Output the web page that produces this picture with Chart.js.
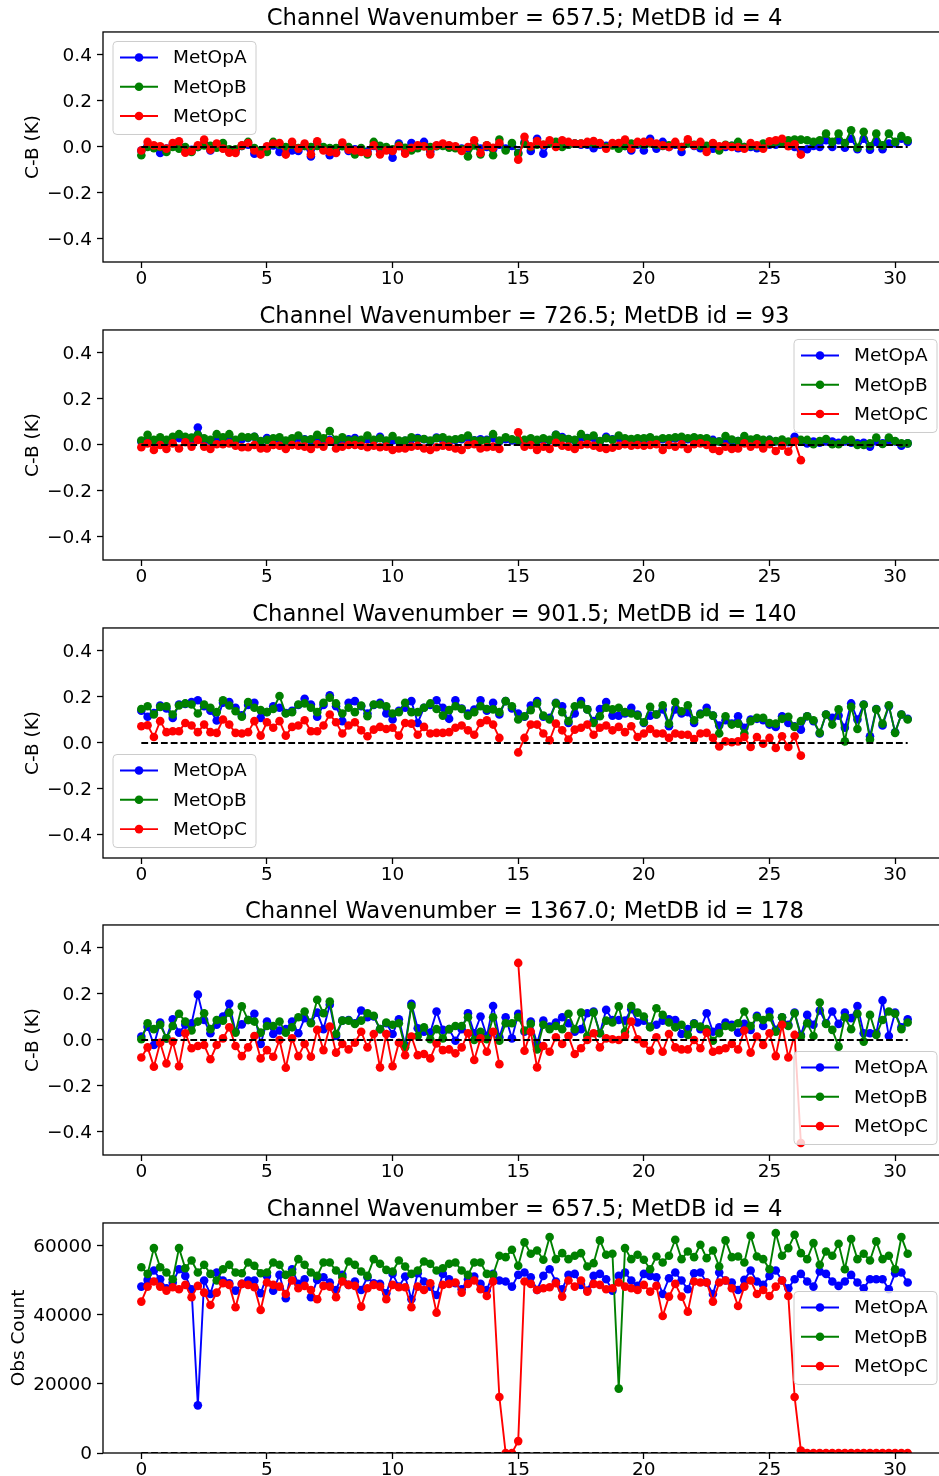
<!DOCTYPE html>
<html>
<head>
<meta charset="utf-8">
<script src="https://cdn.jsdelivr.net/npm/chart.js@4.4.0/dist/chart.umd.min.js"></script>
<style>
  html, body { margin: 0; padding: 0; background: #fff; overflow: hidden; width: 939px; height: 1476px; }
  canvas { position: absolute; left: 0; }
</style>
</head>
<body>
<canvas id="p0" width="946" height="298" style="top:0px"></canvas>
<canvas id="p1" width="946" height="298" style="top:298px"></canvas>
<canvas id="p2" width="946" height="298" style="top:596px"></canvas>
<canvas id="p3" width="946" height="298" style="top:893px"></canvas>
<canvas id="p4" width="946" height="298" style="top:1191px"></canvas>
<script>
// x axis: days, 6-hourly steps
const days = Array.from({ length: 123 }, (_, i) => i * 0.25);
const xTicks = [0, 5, 10, 15, 20, 25, 30];
const cbTicks = [-0.4, -0.2, 0, 0.2, 0.4];
const countTicks = [0, 20000, 40000, 60000];
const seriesNames = ["MetOpA", "MetOpB", "MetOpC"];
const titles = [
  "Channel Wavenumber = 657.5; MetDB id = 4",
  "Channel Wavenumber = 726.5; MetDB id = 93",
  "Channel Wavenumber = 901.5; MetDB id = 140",
  "Channel Wavenumber = 1367.0; MetDB id = 178",
  "Channel Wavenumber = 657.5; MetDB id = 4",
];

// C-B (K), channel 657.5
const cb4A = [-0.015, 0.005, 0.0, -0.026, -0.007, 0.01, 0.005, -0.015, -0.012, 0.0,
  0.015, -0.015, 0.01, -0.005, -0.02, -0.017, 0.005, 0.01, -0.029, -0.022,
  -0.005, 0.007, -0.022, -0.02, -0.015, -0.017, 0.005, -0.041, 0.015, -0.01,
  -0.036, -0.022, 0.01, -0.017, -0.01, -0.017, -0.02, 0.005, -0.015, -0.01,
  -0.047, 0.015, -0.015, 0.017, 0.0, 0.022, -0.02, 0.005, 0.01, 0.005,
  0.0, -0.007, -0.005, 0.01, -0.007, 0.0, -0.01, 0.01, -0.007, 0.005,
  -0.025, 0.02, -0.017, 0.036, -0.029, 0.015, 0.01, 0.015, 0.01, 0.015,
  0.01, 0.01, -0.005, 0.01, 0.005, 0.01, 0.015, 0.005, -0.015, 0.01,
  -0.015, 0.036, -0.007, 0.022, 0.0, 0.01, -0.022, 0.015, 0.005, -0.005,
  0.0, -0.007, 0.0, 0.0, 0.005, -0.005, 0.0, 0.0, -0.005, 0.0,
  0.01, 0.01, 0.015, 0.01, 0.0, -0.015, -0.01, 0.005, 0.0, 0.029,
  0.0, 0.029, -0.003, 0.036, -0.01, 0.036, -0.012, 0.022, -0.01, 0.015,
  0.015, 0.036, 0.022];
const cb4B = [-0.036, 0.0, -0.005, 0.0, -0.022, 0.0, -0.007, 0.0, -0.022, 0.0,
  0.007, 0.005, -0.003, 0.017, -0.01, -0.01, 0.005, 0.022, -0.005, -0.015,
  -0.022, 0.022, 0.01, 0.0, 0.01, -0.005, 0.005, 0.0, 0.005, 0.0,
  -0.005, -0.005, 0.003, 0.0, -0.032, -0.005, -0.032, 0.022, 0.005, 0.0,
  -0.01, 0.007, -0.003, -0.015, -0.005, 0.003, 0.0, 0.003, 0.005, -0.003,
  -0.005, -0.01, -0.041, 0.007, -0.032, 0.007, -0.036, 0.032, -0.015, 0.017,
  -0.029, 0.015, 0.0, 0.01, 0.01, 0.015, 0.022, 0.0, 0.01, 0.015,
  0.015, 0.015, 0.017, 0.015, 0.0, 0.007, -0.007, 0.005, 0.015, 0.015,
  0.01, 0.015, 0.01, 0.005, 0.007, 0.015, 0.0, 0.015, 0.01, 0.005,
  0.005, 0.015, -0.015, 0.01, 0.005, 0.022, 0.0, 0.005, 0.003, 0.015,
  0.015, 0.022, 0.022, 0.029, 0.032, 0.032, 0.029, 0.022, 0.029, 0.058,
  0.022, 0.058, 0.017, 0.073, -0.003, 0.066, 0.003, 0.058, 0.007, 0.058,
  0.022, 0.047, 0.029];
const cb4C = [-0.015, 0.022, 0.007, 0.003, -0.007, 0.017, 0.025, -0.025, -0.017, 0.007,
  0.032, -0.012, 0.015, -0.007, -0.025, -0.026, 0.007, 0.017, -0.015, -0.033,
  0.003, 0.015, 0.017, -0.033, 0.023, -0.007, 0.015, -0.032, 0.025, -0.015,
  -0.022, -0.026, 0.019, -0.012, -0.015, -0.022, -0.026, 0.007, -0.032, -0.015,
  -0.017, 0.003, -0.029, -0.003, 0.007, 0.003, -0.032, 0.007, 0.015, 0.007,
  0.003, -0.017, 0.0, 0.029, -0.026, 0.007, -0.003, 0.017, null, null,
  -0.055, 0.044, 0.003, 0.026, 0.01, 0.029, 0.0, 0.029, 0.022, 0.015,
  0.015, 0.022, 0.026, 0.017, -0.007, 0.017, 0.017, 0.032, -0.007, 0.022,
  0.022, 0.022, 0.015, 0.007, 0.0, 0.022, 0.0, 0.033, 0.007, 0.022,
  -0.022, 0.017, 0.003, 0.007, 0.0, 0.0, -0.007, 0.017, 0.007, -0.007,
  0.025, 0.029, 0.036, 0.003, 0.012, -0.033];

// C-B (K), channel 726.5
const cb93A = [0.015, 0.02, 0.012, 0.02, 0.015, 0.025, 0.03, 0.025, 0.022, 0.076,
  0.02, 0.018, 0.03, 0.025, 0.035, 0.015, 0.025, 0.03, 0.036, 0.015,
  0.03, 0.022, 0.025, 0.015, 0.02, 0.03, 0.025, 0.02, 0.03, 0.022,
  0.022, 0.018, 0.02, 0.025, 0.03, 0.018, 0.025, 0.018, 0.036, 0.015,
  0.02, 0.015, 0.018, 0.025, 0.03, 0.025, 0.015, 0.032, 0.022, 0.015,
  0.022, 0.025, 0.03, 0.02, 0.025, 0.022, 0.03, 0.015, 0.025, 0.02,
  0.018, 0.018, 0.022, 0.02, 0.022, 0.02, 0.044, 0.035, 0.025, 0.02,
  0.03, 0.03, 0.03, 0.015, 0.036, 0.025, 0.03, 0.022, 0.02, 0.025,
  0.022, 0.03, 0.02, 0.025, 0.022, 0.028, 0.03, 0.025, 0.03, 0.025,
  0.022, 0.022, 0.015, 0.015, 0.02, 0.017, 0.025, 0.02, 0.025, 0.02,
  0.022, 0.015, 0.018, 0.012, 0.036, 0.015, 0.007, 0.015, 0.01, 0.015,
  0.015, 0.01, 0.015, 0.01, 0.007, 0.01, -0.007, 0.015, 0.007, 0.022,
  0.015, -0.003, 0.007];
const cb93B = [0.019, 0.044, 0.022, 0.033, 0.022, 0.036, 0.047, 0.036, 0.032, 0.044,
  0.029, 0.022, 0.047, 0.033, 0.047, 0.022, 0.036, 0.033, 0.036, 0.017,
  0.022, 0.029, 0.033, 0.019, 0.029, 0.041, 0.022, 0.025, 0.044, 0.029,
  0.061, 0.022, 0.033, 0.019, 0.022, 0.022, 0.041, 0.022, 0.029, 0.019,
  0.039, 0.019, 0.019, 0.033, 0.026, 0.026, 0.019, 0.029, 0.033, 0.022,
  0.025, 0.029, 0.041, 0.019, 0.019, 0.019, 0.047, 0.019, 0.033, 0.025,
  0.022, 0.022, 0.029, 0.022, 0.029, 0.022, 0.044, 0.029, 0.026, 0.022,
  0.047, 0.029, 0.041, 0.017, 0.029, 0.022, 0.041, 0.029, 0.026, 0.029,
  0.029, 0.033, 0.022, 0.029, 0.029, 0.033, 0.036, 0.029, 0.033, 0.029,
  0.029, 0.015, 0.015, 0.039, 0.024, 0.017, 0.039, 0.024, 0.029, 0.022,
  0.022, 0.017, 0.024, 0.015, 0.015, 0.022, 0.022, 0.003, 0.017, 0.026,
  0.003, 0.003, 0.022, 0.022, 0.0, 0.0, 0.007, 0.032, 0.004, 0.032,
  0.017, 0.007, 0.007];
const cb93C = [-0.01, 0.007, -0.022, 0.0, -0.017, 0.007, -0.015, 0.012, -0.007, 0.022,
  -0.007, -0.017, 0.003, 0.003, 0.007, -0.003, -0.01, -0.01, 0.0, -0.015,
  -0.015, 0.0, -0.003, -0.017, 0.0, -0.003, -0.007, -0.017, 0.003, -0.007,
  0.017, -0.015, -0.007, 0.0, 0.0, -0.003, -0.01, -0.003, -0.01, -0.007,
  -0.022, -0.015, -0.015, -0.007, -0.003, -0.015, -0.022, -0.01, -0.003, -0.007,
  -0.015, -0.022, 0.0, 0.003, -0.015, -0.01, -0.007, -0.017, null, null,
  0.055, -0.007, 0.0, -0.022, -0.007, -0.017, 0.01, -0.003, -0.007, -0.017,
  0.0, 0.003, -0.003, -0.012, -0.017, -0.012, -0.003, 0.003, -0.003, 0.0,
  -0.003, 0.0, 0.003, -0.022, 0.0, -0.007, 0.003, -0.017, 0.003, 0.007,
  0.0, -0.017, -0.026, -0.007, -0.017, -0.015, 0.007, -0.007, 0.003, -0.015,
  0.003, -0.026, -0.003, -0.029, 0.015, -0.066];

// C-B (K), channel 901.5
const cb140A = [0.14, 0.114, 0.13, 0.163, 0.15, 0.109, 0.167, 0.17, 0.178, 0.186,
  0.16, 0.14, 0.098, 0.175, 0.178, 0.153, 0.12, 0.165, 0.175, 0.109,
  0.135, 0.16, 0.153, 0.13, 0.14, 0.165, 0.192, 0.167, 0.114, 0.165,
  0.207, 0.16, 0.095, 0.175, 0.182, 0.16, 0.128, 0.165, 0.175, 0.128,
  0.102, 0.14, 0.153, 0.182, 0.087, 0.153, 0.165, 0.186, 0.153, 0.105,
  0.186, 0.15, 0.128, 0.145, 0.186, 0.14, 0.175, 0.124, 0.182, 0.15,
  0.128, 0.114, 0.163, 0.182, 0.114, 0.109, 0.175, 0.16, 0.087, 0.128,
  0.182, 0.146, 0.095, 0.148, 0.178, 0.119, 0.119, 0.128, 0.153, 0.124,
  0.087, 0.119, 0.124, 0.146, 0.073, 0.146, 0.128, 0.134, 0.087, 0.128,
  0.153, 0.119, 0.076, 0.099, 0.084, 0.116, 0.066, 0.102, 0.105, 0.099,
  0.08, 0.07, 0.116, 0.087, 0.073, 0.058, 0.116, 0.095, 0.041, 0.124,
  0.109, 0.119, 0.066, 0.172, 0.102, 0.167, 0.029, 0.148, 0.076, 0.16,
  0.047, 0.124, 0.105];
const cb140B = [0.148, 0.16, 0.124, 0.157, 0.16, 0.124, 0.163, 0.172, 0.167, 0.128,
  0.167, 0.153, 0.134, 0.186, 0.163, 0.138, 0.114, 0.178, 0.153, 0.143,
  0.134, 0.148, 0.204, 0.128, 0.134, 0.167, 0.172, 0.153, 0.134, 0.175,
  0.197, 0.172, 0.128, 0.153, 0.134, 0.163, 0.116, 0.167, 0.167, 0.16,
  0.128, 0.134, 0.175, 0.134, 0.134, 0.153, 0.172, 0.148, 0.119, 0.143,
  0.16, 0.148, 0.119, 0.134, 0.16, 0.148, 0.146, 0.134, 0.182, 0.16,
  0.102, 0.116, 0.143, 0.172, 0.119, 0.102, 0.172, 0.134, 0.095, 0.16,
  0.167, 0.146, 0.087, 0.116, 0.153, 0.146, 0.153, 0.134, 0.128, 0.119,
  0.09, 0.157, 0.124, 0.164, 0.084, 0.178, 0.138, 0.164, 0.099, 0.124,
  0.134, 0.119, 0.041, 0.116, 0.08, 0.084, 0.041, 0.095, 0.109, 0.109,
  0.087, 0.084, 0.105, 0.114, 0.07, 0.095, 0.116, 0.099, 0.044, 0.124,
  0.08, 0.146, 0.007, 0.157, 0.061, 0.166, 0.015, 0.146, 0.084, 0.164,
  0.044, 0.124, 0.102];
const cb140C = [0.073, 0.077, 0.026, 0.095, 0.047, 0.051, 0.051, 0.087, 0.076, 0.047,
  0.08, 0.047, 0.044, 0.102, 0.08, 0.044, 0.041, 0.047, 0.095, 0.032,
  0.09, 0.066, 0.095, 0.032, 0.07, 0.076, 0.099, 0.051, 0.051, 0.076,
  0.124, 0.09, 0.041, 0.076, 0.09, 0.055, 0.029, 0.058, 0.07, 0.061,
  0.066, 0.032, 0.087, 0.084, 0.036, 0.07, 0.041, 0.044, 0.044, 0.047,
  0.066, 0.076, 0.055, 0.036, 0.087, 0.099, 0.08, 0.022, null, null,
  -0.041, 0.022, 0.08, 0.08, 0.041, 0.012, 0.084, 0.055, 0.015, 0.058,
  0.066, 0.08, 0.036, 0.066, 0.076, 0.055, 0.07, 0.047, 0.073, 0.026,
  0.041, 0.061, 0.041, 0.041, 0.022, 0.041, 0.036, 0.036, 0.017, 0.041,
  0.044, 0.022, -0.015, 0.007, 0.003, 0.007, 0.026, -0.017, 0.026, -0.003,
  0.022, -0.022, 0.029, -0.017, 0.029, -0.055];

// C-B (K), channel 1367.0
const cb178A = [0.015, 0.058, -0.022, 0.076, 0.007, 0.09, 0.032, 0.066, 0.073, 0.197,
  0.087, 0.029, 0.066, 0.102, 0.157, 0.036, 0.068, 0.087, 0.114, -0.017,
  0.08, 0.026, 0.041, 0.047, 0.08, 0.029, 0.095, 0.076, 0.119, 0.047,
  0.153, 0.017, 0.084, 0.087, 0.073, 0.128, 0.099, 0.102, 0.047, 0.073,
  0.026, 0.09, -0.022, 0.157, 0.051, 0.036, 0.032, 0.124, 0.044, 0.047,
  -0.003, 0.047, 0.116, 0.029, 0.102, 0.017, 0.148, 0.012, 0.099, 0.007,
  0.114, 0.036, 0.08, -0.015, 0.084, 0.058, 0.076, 0.099, 0.073, 0.036,
  0.047, 0.116, 0.124, 0.029, 0.131, 0.087, 0.087, 0.084, 0.134, 0.076,
  0.084, 0.058, 0.066, 0.084, 0.09, 0.087, 0.026, 0.047, 0.073, 0.047,
  0.116, 0.036, 0.055, 0.076, 0.066, 0.032, 0.07, 0.044, 0.105, 0.061,
  0.124, 0.044, 0.099, 0.066, 0.119, 0.022, 0.109, 0.066, 0.128, 0.073,
  0.124, 0.07, 0.119, 0.095, 0.148, 0.029, 0.029, 0.029, 0.172, 0.017,
  0.119, 0.055, 0.09];
const cb178B = [0.003, 0.073, 0.047, 0.066, 0.007, 0.061, 0.114, 0.08, 0.041, 0.08,
  0.116, 0.047, 0.087, 0.084, 0.119, 0.032, 0.146, 0.087, 0.08, 0.032,
  0.061, 0.061, 0.08, 0.032, 0.055, 0.099, 0.124, 0.073, 0.175, 0.116,
  0.167, 0.026, 0.084, 0.084, 0.07, 0.084, 0.116, 0.105, 0.047, 0.076,
  0.066, 0.073, -0.032, 0.148, 0.017, 0.055, 0.003, 0.047, 0.007, 0.047,
  0.061, 0.061, 0.099, 0.0, 0.036, 0.003, 0.099, -0.003, 0.073, 0.073,
  0.099, 0.041, 0.07, -0.041, 0.066, 0.047, 0.061, 0.047, 0.114, 0.047,
  0.119, 0.017, 0.119, 0.029, 0.084, 0.076, 0.146, 0.036, 0.148, 0.119,
  0.102, 0.055, 0.138, 0.109, 0.076, 0.055, 0.066, 0.022, 0.07, 0.058,
  0.047, -0.003, 0.029, 0.061, 0.055, 0.073, 0.124, 0.061, 0.099, 0.087,
  0.099, 0.036, 0.099, 0.061, 0.116, 0.015, 0.073, 0.017, 0.163, 0.07,
  0.044, -0.029, 0.099, 0.047, 0.114, -0.007, 0.109, 0.022, 0.087, 0.124,
  0.114, 0.047, 0.076];
const cb178C = [-0.076, -0.032, -0.116, -0.012, -0.102, -0.007, -0.114, 0.029, -0.036, -0.026,
  -0.022, -0.084, -0.022, 0.007, 0.055, -0.026, -0.07, -0.032, 0.017, -0.08,
  -0.044, -0.073, 0.0, -0.121, 0.007, -0.07, -0.017, -0.073, 0.044, -0.044,
  0.058, -0.055, -0.017, -0.041, -0.012, 0.036, -0.032, 0.026, -0.119, 0.026,
  -0.114, -0.012, -0.066, 0.015, -0.066, -0.061, -0.08, -0.015, -0.044, -0.041,
  -0.058, -0.032, 0.029, -0.087, 0.007, -0.051, 0.036, -0.105, null, null,
  0.335, -0.047, 0.036, -0.119, -0.026, -0.051, 0.012, -0.017, 0.017, -0.061,
  -0.036, 0.0, 0.029, -0.032, 0.007, 0.003, 0.0, 0.017, 0.08, 0.003,
  -0.015, -0.047, 0.012, -0.051, 0.026, -0.032, -0.041, -0.041, 0.0, -0.036,
  0.032, -0.051, -0.044, -0.036, -0.017, -0.041, 0.041, -0.055, 0.015, -0.022,
  0.029, -0.07, 0.066, -0.076, 0.022, -0.448];

// Obs count, channel 657.5
const countA = [48180, 50120, 52830, 50310, 47700, 49350, 53220, 51280, 47410, 13800,
  49930, 46050, 52250, 49930, 49150, 47020, 48960, 49930, 49930, 46250,
  51280, 47020, 51570, 44790, 53220, 48960, 50310, 45080, 50120, 50890,
  49350, 47210, 51570, 48670, 49640, 47210, 50890, 49150, 48960, 46250,
  51860, 48180, 51090, 44500, 52060, 49640, 48180, 45760, 51860, 50310,
  49150, 47410, 50310, 51090, 48960, 47210, 51860, 49930, 49640, 48180,
  51570, 52250, 50890, 47210, 51280, 53220, 49640, 47410, 51570, 51860,
  48670, 47020, 51280, 51860, 50310, 47020, 51280, 52250, 49930, 48380,
  51860, 51280, 50890, 46050, 50600, 52250, 49930, 47410, 52060, 52250,
  49350, 46050, 52250, 49930, 49350, 47210, 50120, 52830, 49640, 48670,
  51280, 52830, 49930, 47700, 50310, 51860, 49640, 48180, 52540, 51860,
  49640, 48380, 49640, 51570, 49350, 47700, 50310, 50310, 50310, 47410,
  52060, 52250, 49350];
const countB = [53800, 51860, 59320, 53800, 52250, 50310, 59320, 53510, 55740, 52250,
  54480, 51860, 49930, 53220, 54480, 52250, 52060, 55160, 54190, 52060,
  52250, 55160, 54480, 51570, 52250, 56130, 54480, 52250, 51280, 55160,
  55160, 52830, 50890, 55450, 54480, 52540, 51280, 56130, 54770, 53030,
  52540, 55740, 53990, 51860, 52830, 55450, 54770, 52830, 53510, 54770,
  55160, 52830, 51570, 55160, 55160, 51860, 51570, 57090, 56710, 58840,
  54190, 60970, 57670, 58640, 55930, 62520, 56130, 57860, 56130, 57090,
  57860, 53990, 54960, 61550, 57380, 57670, 18640, 59320, 56130, 57380,
  55930, 53220, 56900, 55160, 57090, 61750, 56130, 58350, 56710, 60290,
  56420, 58640, 53990, 61550, 56710, 56900, 55160, 62900, 56900, 56130,
  53220, 63680, 57090, 59320, 63190, 57860, 56130, 60770, 54480, 58350,
  57090, 60580, 53220, 61940, 56130, 57670, 55740, 61260, 56130, 57090,
  53220, 62520, 57670];
const countC = [43830, 48180, 49640, 48180, 47020, 47990, 47410, 48670, 45080, 48380,
  46440, 42860, 46440, 49150, 48670, 42180, 48960, 48670, 47990, 41400,
  49350, 48670, 48180, 46050, 49930, 47700, 48380, 47210, 44500, 48380,
  48180, 45080, 49640, 48670, 48380, 42370, 47700, 48670, 48180, 44500,
  48670, 47990, 47990, 42180, 48180, 47210, 49150, 40630, 48670, 48960,
  49350, 46440, 48960, 49930, 47410, 45470, 49640, 16220, 0, 0,
  3440, 49640, 48960, 47210, 47700, 47990, 49150, 45280, 49930, 48180,
  49930, 46730, 48960, 48670, 47410, 47700, 49350, 48180, 47700, 47210,
  48670, 46730, 48380, 39650, 45280, 48960, 45280, 40920, 49640, 49350,
  49350, 43830, 49350, 49930, 47700, 42570, 48180, 49930, 46050, 47210,
  45470, 48180, 49930, 45470, 16220, 700, 0, 0, 0, 0,
  0, 0, 0, 0, 0, 0, 0, 0, 0, 0,
  0, 0, 0];

const FONT = "'DejaVu Sans', sans-serif";
Chart.defaults.font.family = FONT;
Chart.defaults.color = "#000";

const blue = "#0000ff";
const green = "#008000";
const red = "#ff0000";
const markerR = 4.3;

// matplotlib-style axes frame + legend box drawn inside the plot area
const framePlugin = {
  id: "frame",
  afterDatasetsDraw(chart, args, opts) {
    const { ctx, chartArea: a } = chart;
    ctx.save();
    ctx.strokeStyle = "#000";
    ctx.lineWidth = 1.3;
    ctx.strokeRect(a.left, a.top, a.right - a.left, a.bottom - a.top);

    const w = 143, h = 93;
    const where = opts.legend;
    const x = where.includes("left") ? a.left + 10 : a.right - 9 - w;
    let y;
    if (where.startsWith("upper")) y = a.top + 9.5;
    else if (where.startsWith("lower")) y = a.bottom - 10.5 - h;
    else y = (a.top + a.bottom) / 2 - h / 2;

    ctx.beginPath();
    if (ctx.roundRect) ctx.roundRect(x, y, w, h, 4);
    else ctx.rect(x, y, w, h);
    ctx.fillStyle = "rgba(255,255,255,0.8)";
    ctx.fill();
    ctx.strokeStyle = "#cccccc";
    ctx.lineWidth = 1;
    ctx.stroke();

    const entries = chart.data.datasets.filter((d) => d.label);
    entries.forEach((d, k) => {
      const ry = y + 16 + k * 29.3;
      ctx.strokeStyle = d.borderColor;
      ctx.lineWidth = 1.9;
      ctx.beginPath();
      ctx.moveTo(x + 7, ry);
      ctx.lineTo(x + 45, ry);
      ctx.stroke();
      ctx.fillStyle = d.borderColor;
      ctx.beginPath();
      ctx.arc(x + 26, ry, markerR, 0, Math.PI * 2);
      ctx.fill();
      ctx.fillStyle = "#000";
      ctx.font = "18.5px " + FONT;
      ctx.textBaseline = "middle";
      ctx.textAlign = "left";
      ctx.fillText(d.label, x + 60, ry + 1);
    });
    ctx.restore();
  },
};

function toXY(vals) {
  return vals.map((v, i) => ({ x: days[i], y: v }));
}

function series(label, color, vals, order) {
  return {
    label,
    data: toXY(vals),
    borderColor: color,
    backgroundColor: color,
    borderWidth: 1.9,
    pointRadius: markerR,
    pointBorderWidth: 0,
    pointHoverRadius: markerR,
    order,
  };
}

function zeroLine() {
  return {
    label: "",
    data: [{ x: days[0], y: 0 }, { x: days[days.length - 1], y: 0 }],
    borderColor: "#000",
    borderWidth: 1.9,
    borderDash: [6.8, 3],
    pointRadius: 0,
    order: 0,
  };
}

const cbFmt = (v) => (v < 0 ? "\u2212" : "") + Math.abs(v).toFixed(1);
const countFmt = (v) => String(v);

function makePanel(id, title, a, b, c, opts) {
  new Chart(document.getElementById(id), {
    type: "line",
    data: {
      datasets: [
        series(seriesNames[0], blue, a, 3),
        series(seriesNames[1], green, b, 2),
        series(seriesNames[2], red, c, 1),
        zeroLine(),
      ],
    },
    plugins: [framePlugin],
    options: {
      responsive: false,
      animation: false,
      devicePixelRatio: 1,
      layout: { padding: 0, autoPadding: false },
      plugins: {
        legend: { display: false },
        tooltip: { enabled: false },
        title: {
          display: true,
          text: title,
          fullSize: false,
          color: "#000",
          font: { size: 22.7, weight: "normal", family: FONT, lineHeight: 1.1 },
          padding: { top: 6.5, bottom: 0.5 },
        },
        frame: { legend: opts.legend },
      },
      scales: {
        x: {
          type: "linear",
          min: -1.525,
          max: 32.025,
          afterBuildTicks: (s) => { s.ticks = xTicks.map((v) => ({ value: v })); },
          afterFit: (s) => { s.height = 36; s.paddingLeft = 0; s.paddingRight = 0; },
          border: { display: false },
          grid: { drawOnChartArea: false, drawTicks: true, tickLength: 6, tickColor: "#000", tickWidth: 1.3 },
          ticks: { padding: 0, maxRotation: 0, color: "#000", font: { size: 18.5 } },
        },
        y: {
          type: "linear",
          min: opts.yMin,
          max: opts.yMax,
          afterBuildTicks: (s) => { s.ticks = opts.yTicks.map((v) => ({ value: v })); },
          afterFit: (s) => { s.width = 103; s.paddingTop = 0; s.paddingBottom = 0; },
          border: { display: false },
          grid: { drawOnChartArea: false, drawTicks: true, tickLength: 6, tickColor: "#000", tickWidth: 1.3 },
          ticks: { padding: 5, labelOffset: 1.5, color: "#000", font: { size: 18.5 }, callback: opts.fmt },
          title: {
            display: true,
            text: opts.yLabel,
            color: "#000",
            font: { size: 18.5 },
            padding: { top: opts.labelPad, bottom: 0 },
          },
        },
      },
    },
  });
}

const cbOpts = { yMin: -0.5, yMax: 0.5, yTicks: cbTicks, fmt: cbFmt, yLabel: "C-B (K)", labelPad: 22 };

makePanel("p0", titles[0], cb4A, cb4B, cb4C, { ...cbOpts, legend: "upper left" });
makePanel("p1", titles[1], cb93A, cb93B, cb93C, { ...cbOpts, legend: "upper right" });
makePanel("p2", titles[2], cb140A, cb140B, cb140C, { ...cbOpts, legend: "lower left" });
makePanel("p3", titles[3], cb178A, cb178B, cb178C, { ...cbOpts, legend: "lower right" });
makePanel("p4", titles[4], countA, countB, countC, {
  yMin: 0, yMax: 66600, yTicks: countTicks, fmt: countFmt, yLabel: "Obs Count", labelPad: 8, legend: "center right",
});
</script>
</body>
</html>
